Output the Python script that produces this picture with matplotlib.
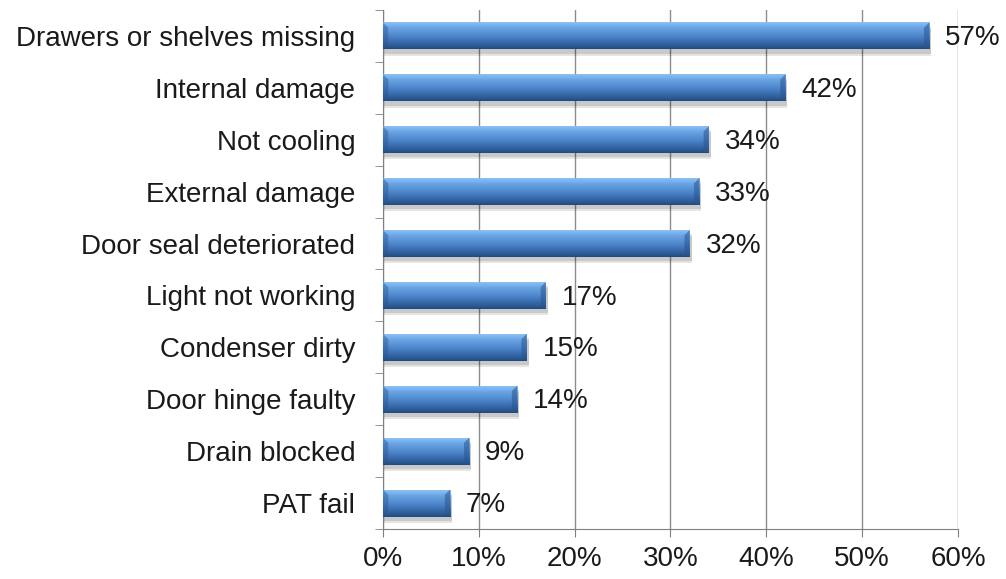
import numpy as np
import matplotlib.pyplot as plt
from matplotlib.colors import LinearSegmentedColormap
from matplotlib.patches import Rectangle, Polygon

plt.rcParams['font.family'] = ['Liberation Sans', 'DejaVu Sans']

categories = ['Drawers or shelves missing', 'Internal damage', 'Not cooling',
              'External damage', 'Door seal deteriorated', 'Light not working',
              'Condenser dirty', 'Door hinge faulty', 'Drain blocked', 'PAT fail']
values = [57, 42, 34, 33, 32, 17, 15, 14, 9, 7]
xticks = [0, 10, 20, 30, 40, 50, 60]

fig = plt.figure(figsize=(10.06, 5.79), dpi=100)
ax = fig.add_axes([0.3807, 0.0864, 0.5716, 0.8963])

n = len(categories)
ypos = np.arange(n)
bar_h = 0.52

# vertical gradient for the bevelled look
cmap = LinearSegmentedColormap.from_list('bar', [
    (0.0, '#8cc0f2'), (0.2, '#6aa6e6'), (0.55, '#4a82c8'), (0.85, '#2f5f9c'), (1.0, '#244a7e')])
grad = np.linspace(0, 1, 64).reshape(-1, 1)

for y, v in zip(ypos, values):
    # soft shadow
    for k, a in [(0.12, 0.10), (0.08, 0.12)]:
        sh = Rectangle((0.1, y - bar_h / 2 + k), v + 0.1, bar_h, facecolor='#000000',
                       alpha=a, edgecolor='none', zorder=2)
        ax.add_patch(sh)
    rect = Rectangle((0, y - bar_h / 2), v, bar_h, facecolor='none', edgecolor='none', zorder=3)
    ax.add_patch(rect)
    im = ax.imshow(grad, cmap=cmap, aspect='auto', extent=(0, v, y + bar_h / 2, y - bar_h / 2),
                   zorder=3, interpolation='bilinear')
    im.set_clip_path(rect)
    # bevelled ends
    e = 0.55
    ax.add_patch(Polygon([(v, y - bar_h / 2), (v - e, y - bar_h / 2 + 0.1), (v - e, y + bar_h / 2 - 0.08),
                          (v, y + bar_h / 2)], closed=True, facecolor='#2a558e', alpha=0.55,
                         edgecolor='none', zorder=3.5))
    ax.add_patch(Polygon([(0, y - bar_h / 2), (e, y - bar_h / 2 + 0.1), (e, y + bar_h / 2 - 0.08),
                          (0, y + bar_h / 2)], closed=True, facecolor='#2a558e', alpha=0.45,
                         edgecolor='none', zorder=3.5))
    ax.text(v + 1.65, y + 0.04, f'{v}%', va='center', ha='left', fontsize=20, color='#1a1a1a', zorder=4)

ax.set_xlim(0, 60)
ax.set_ylim(n - 0.5, -0.5)
ax.set_xticks(xticks)
ax.set_xticklabels([f'{t}%' for t in xticks], fontsize=20, color='#1a1a1a')
ax.set_yticks(ypos)
ax.set_yticklabels(categories, fontsize=20, color='#1a1a1a')
ax.set_yticks(np.arange(-0.5, n, 1), minor=True)
ax.tick_params(axis='y', which='major', length=0, pad=20)
ax.tick_params(axis='y', which='minor', length=6, color='#808080')
ax.tick_params(axis='x', length=6, color='#808080', pad=6)
ax.grid(axis='x', color='#8c8c8c', linewidth=1, zorder=0)
ax.set_axisbelow(True)
for s in ['top', 'right']:
    ax.spines[s].set_visible(False)
for s in ['left', 'bottom']:
    ax.spines[s].set_color('#808080')

fig.savefig('out.png', dpi=100)
